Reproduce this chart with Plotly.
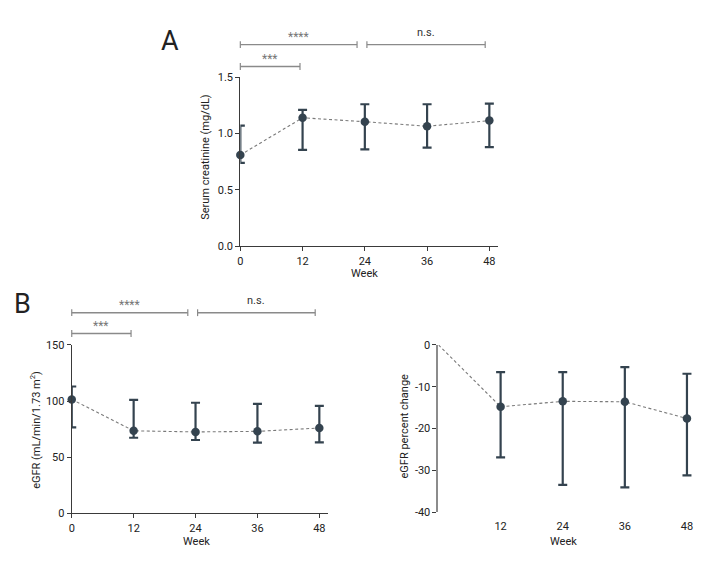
import plotly.graph_objects as go

W, H = 720, 576
OFF = 8  # default page body margin (px) in the browser

# ---------------- data ----------------
weeks = [0, 12, 24, 36, 48]
week_ticks = [0, 12, 24, 36, 48]
week_ticktext = ["0", "12", "24", "36", "48"]

# Panel A: serum creatinine (mg/dL)
scr_mean = [0.81, 1.14, 1.105, 1.065, 1.115]
scr_upper = [1.07, 1.21, 1.26, 1.26, 1.265]
scr_lower = [0.74, 0.855, 0.86, 0.875, 0.88]
scr_ticks = [0, 0.5, 1.0, 1.5]
scr_ticktext = ["0.0", "0.5", "1.0", "1.5"]

# Panel B left: eGFR (mL/min/1.73 m2)
egfr_mean = [101.5, 73.5, 72.5, 73.0, 76.0]
egfr_upper = [113.0, 101.0, 98.5, 97.5, 95.8]
egfr_lower = [76.5, 67.3, 65.3, 63.0, 63.2]
egfr_ticks = [0, 50, 100, 150]
egfr_ticktext = ["0", "50", "100", "150"]

# Panel B right: eGFR percent change
pct_weeks_line = [0, 12, 24, 36, 48]
pct_line = [0, -14.8, -13.5, -13.6, -17.6]
pct_weeks = [12, 24, 36, 48]
pct_mean = [-14.8, -13.5, -13.6, -17.6]
pct_upper = [-6.5, -6.5, -5.3, -6.9]
pct_lower = [-26.9, -33.5, -34.1, -31.2]
pct_ticks = [0, -10, -20, -30, -40]
pct_ticktext = ["0", "-10", "-20", "-30", "-40"]
pct_xticks = [12, 24, 36, 48]
pct_xticktext = ["12", "24", "36", "48"]

# significance brackets: (x0, x1, label, level) level 0 = lower, 1 = upper
brackets = [(0, 11.5, "***", 0), (0, 22.5, "****", 1), (24.4, 47.2, "n.s.", 1)]

# ---------------- style ----------------
FONT = "Roboto, Liberation Sans, sans-serif"
FS = 11
DARK = "#34434f"
AXIS = "#3a3a3a"
GREY = "#8a8a8a"
DASH = "#7a7a7a"

FW, FH = W - OFF, H - OFF


def px(x):
    return (x - OFF) / FW


def py(y):
    return 1 - (y - OFF) / FH


# panel geometry in pixels (page coordinates)
A_x = (238.3, 496.7); A_y = (245.7, 72.7); A_xr = [0, 49.6]
B_x = (69.0, 326.7); B_y = (519.0, 346.7); B_xr = [0, 49.75]
C_x = (437.3, 696.7); C_y = (517.7, 346.7); C_xr = [0, 49.9]

fig = go.Figure()


def add_series(xs, mean, upper, lower, xa, ya, line_x=None, line_y=None):
    lx = xs if line_x is None else line_x
    ly = mean if line_y is None else line_y
    fig.add_trace(go.Scatter(
        x=lx, y=ly, mode="lines", xaxis=xa, yaxis=ya,
        line=dict(color=DASH, width=1.1, dash="3px,2.5px"),
        hoverinfo="skip", showlegend=False))
    plus = [u - m for u, m in zip(upper, mean)]
    minus = [m - l for m, l in zip(mean, lower)]
    fig.add_trace(go.Scatter(
        x=xs, y=mean, mode="markers", xaxis=xa, yaxis=ya,
        marker=dict(color=DARK, size=8.5),
        error_y=dict(type="data", symmetric=False, array=plus, arrayminus=minus,
                     color=DARK, thickness=2.2, width=4.5),
        cliponaxis=False, showlegend=False))


add_series(weeks, scr_mean, scr_upper, scr_lower, "x", "y")
add_series(weeks, egfr_mean, egfr_upper, egfr_lower, "x2", "y2")
add_series(pct_weeks, pct_mean, pct_upper, pct_lower, "x3", "y3",
           line_x=pct_weeks_line, line_y=pct_line)

tickfont = dict(family=FONT, size=FS, color="#222")
common_x = dict(ticks="outside", ticklen=4, tickwidth=1, tickcolor=AXIS,
                showline=True, linecolor=AXIS, linewidth=1.2, showgrid=False,
                zeroline=False, tickfont=tickfont, fixedrange=True)
common_y = dict(ticks="outside", ticklen=4, tickwidth=1, tickcolor=AXIS,
                showline=True, linecolor=AXIS, linewidth=1.2, showgrid=False,
                zeroline=False, tickfont=tickfont, fixedrange=True)

fig.update_layout(
    width=FW, height=FH, margin=dict(l=0, r=0, t=0, b=0),
    paper_bgcolor="white", plot_bgcolor="white", showlegend=False,
    font=dict(family=FONT, size=FS, color="#222"),
    xaxis=dict(common_x, domain=[px(A_x[0]), px(A_x[1])], range=A_xr, anchor="y",
               tickvals=week_ticks, ticktext=week_ticktext),
    yaxis=dict(common_y, domain=[py(A_y[0]), py(A_y[1])], range=[0, 1.5], anchor="x",
               tickvals=scr_ticks, ticktext=scr_ticktext),
    xaxis2=dict(common_x, domain=[px(B_x[0]), px(B_x[1])], range=B_xr, anchor="y2",
                tickvals=week_ticks, ticktext=week_ticktext),
    yaxis2=dict(common_y, domain=[py(B_y[0]), py(B_y[1])], range=[0, 150], anchor="x2",
                tickvals=egfr_ticks, ticktext=egfr_ticktext),
    xaxis3=dict(common_x, domain=[px(C_x[0]), px(C_x[1])], range=C_xr, anchor="y3",
                tickvals=pct_xticks, ticktext=pct_xticktext, showline=False,
                tickcolor="rgba(0,0,0,0)"),
    xaxis4=dict(domain=[px(C_x[0]), px(C_x[1])], range=C_xr, anchor="y3",
                overlaying="x3", side="top", tickvals=pct_xticks,
                ticks="inside", ticklen=5, tickwidth=1, tickcolor=AXIS,
                showline=True, linecolor=AXIS, linewidth=1.2,
                showticklabels=False, showgrid=False, zeroline=False, fixedrange=True),
    yaxis3=dict(common_y, domain=[py(C_y[0]), py(C_y[1])], range=[-40, 0], anchor="x3",
                tickvals=pct_ticks, ticktext=pct_ticktext, linecolor="#8c8c8c",
                linewidth=2),
)

annotations = []
shapes = []


def add_brackets(xr, xdom, y_low, y_high):
    def dx(v):
        return px(xdom[0] + (v - xr[0]) / (xr[1] - xr[0]) * (xdom[1] - xdom[0]))
    for x0, x1, label, level in brackets:
        yy = y_high if level == 1 else y_low
        shapes.append(dict(type="line", xref="paper", yref="paper",
                           x0=dx(x0), x1=dx(x1), y0=py(yy), y1=py(yy),
                           line=dict(color=GREY, width=1.4)))
        for xe in (x0, x1):
            shapes.append(dict(type="line", xref="paper", yref="paper",
                               x0=dx(xe), x1=dx(xe), y0=py(yy - 3.5), y1=py(yy + 3.5),
                               line=dict(color=GREY, width=1.2)))
        is_star = "*" in label
        annotations.append(dict(
            xref="paper", yref="paper", x=(dx(x0) + dx(x1)) / 2,
            y=py(yy + 1.5) if is_star else py(yy - 4), text=label, showarrow=False,
            xanchor="center", yanchor="bottom",
            font=dict(family=FONT, size=12 if is_star else FS,
                      color="#777" if is_star else "#333")))


add_brackets(A_xr, A_x, 61.7, 39.3)
add_brackets(B_xr, B_x, 335.0, 313.7)


def text(x, y, s, size=FS, angle=0, **kw):
    annotations.append(dict(xref="paper", yref="paper", x=px(x), y=py(y), text=s,
                            showarrow=False, textangle=angle, xanchor="center",
                            yanchor="middle",
                            font=dict(family=FONT, size=size, color="#222"), **kw))


text(168, 36, "A", size=27)
text(20, 305, "B", size=27)
text(363.3, 274, "Week")
text(194.3, 547.5, "Week")
text(563.3, 547.5, "Week")
text(203, 154, "Serum creatinine (mg/dL)", angle=-90)
text(33, 433.7, "eGFR (mL/min/1.73 m<sup>2</sup>)", angle=-90)
text(403.3, 429.5, "eGFR percent change", angle=-90)

fig.update_layout(shapes=shapes, annotations=annotations)

fig.write_html("out.html")
